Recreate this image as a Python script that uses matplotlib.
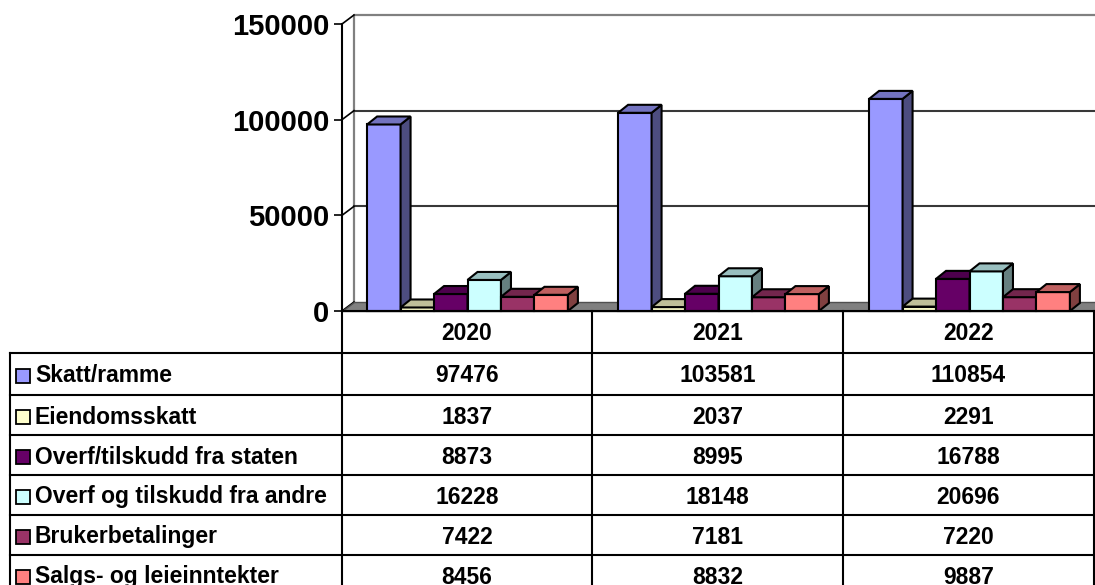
import matplotlib
matplotlib.use("Agg")
import matplotlib.pyplot as plt
from matplotlib.patches import Polygon, Rectangle
from matplotlib.colors import to_rgb

plt.rcParams["font.family"] = ["Liberation Sans", "DejaVu Sans"]
plt.rcParams["font.weight"] = "bold"

# data
years = ["2020", "2021", "2022"]
series = [
    "Skatt/ramme",
    "Eiendomsskatt",
    "Overf/tilskudd fra staten",
    "Overf og tilskudd fra andre",
    "Brukerbetalinger",
    "Salgs- og leieinntekter",
]
skatt = [97476, 103581, 110854]
eiendomsskatt = [1837, 2037, 2291]
overf_staten = [8873, 8995, 16788]
overf_andre = [16228, 18148, 20696]
brukerbetalinger = [7422, 7181, 7220]
salg_leie = [8456, 8832, 9887]
values = [skatt, eiendomsskatt, overf_staten, overf_andre, brukerbetalinger, salg_leie]
colors = ["#9999FF", "#FFFFCC", "#660066", "#CCFFFF", "#993366", "#FF8080"]
y_ticks = [0, 50000, 100000, 150000]
y_max = 150000

W, H = 1095, 585
fig = plt.figure(figsize=(W / 100, H / 100), dpi=100)

# plot area in pixels (from top-left)
px_left, px_right, px_bottom, px_top = 342, 1095, 311, 24
ax = fig.add_axes([px_left / W, 1 - px_bottom / H,
                   (px_right - px_left) / W, (px_bottom - px_top) / H])
n_groups = len(years)
ax.set_xlim(0, n_groups)
ax.set_ylim(0, y_max)
ax.set_facecolor("none")

# pixel -> data unit helpers
ux = n_groups / (px_right - px_left)
uy = y_max / (px_bottom - px_top)
wdx, wdy = 12 * ux, 9 * uy      # wall depth
bdx, bdy = 10 * ux, 8 * uy      # bar depth
xr = n_groups + 0.2

# back wall, floor and gridlines
ax.plot([wdx, wdx, xr], [wdy, y_max + wdy, y_max + wdy], color="#808080",
        lw=1.6, clip_on=False, zorder=1)
for t in y_ticks[1:-1]:
    ax.plot([wdx, xr], [t + wdy, t + wdy], color="#383838", lw=1.5,
            clip_on=False, zorder=1)
for t in y_ticks:
    ax.plot([0, wdx], [t, t + wdy], color="black", lw=1.2, clip_on=False, zorder=1)
ax.add_patch(Polygon([(0, 0), (xr, 0), (xr, wdy), (wdx, wdy)], closed=True,
                     facecolor="#808080", edgecolor="#505050", lw=1.0,
                     clip_on=False, zorder=1.5))


def shade(c, f):
    r, g, b = to_rgb(c)
    return (r * f, g * f, b * f)


# bars (3D look)
n_series = len(series)
w = 1 / (n_series + 1.5)
for j, (vals, col) in enumerate(zip(values, colors)):
    xs = [i + 0.75 * w + j * w for i in range(n_groups)]
    bars = ax.bar(xs, vals, width=w, align="edge", color=col,
                  edgecolor="black", lw=1.5, clip_on=False)
    for i, (bar, v) in enumerate(zip(bars, vals)):
        z = 3 + i * 0.1 + j * 0.01
        bar.set_zorder(z)
        x0 = xs[i]
        x1 = x0 + w
        ax.add_patch(Polygon([(x1, 0), (x1 + bdx, bdy), (x1 + bdx, v + bdy), (x1, v)],
                             closed=True, facecolor=shade(col, 0.5),
                             edgecolor="black", lw=1.5, clip_on=False, zorder=z))
        ax.add_patch(Polygon([(x0, v), (x1, v), (x1 + bdx, v + bdy), (x0 + bdx, v + bdy)],
                             closed=True, facecolor=shade(col, 0.75),
                             edgecolor="black", lw=1.5, clip_on=False, zorder=z))

for s in ["top", "right", "bottom"]:
    ax.spines[s].set_visible(False)
ax.spines["left"].set_linewidth(1.5)
ax.set_xticks([])
ax.set_yticks(y_ticks)
ax.set_yticklabels([str(t) for t in y_ticks], fontsize=21, fontweight="bold")
ax.tick_params(axis="y", length=6, width=1.2, pad=3)

# data table
tab = fig.add_axes([0, 0, 1, 1], zorder=5)
tab.set_xlim(0, W)
tab.set_ylim(H, 0)
tab.axis("off")

col_edges = [10, 342, 592, 843, 1093.5]
row_edges = [311, 353, 395, 435, 475, 515, 555, 595]
lw_t = 1.5
fs = 16.5
tab.plot([col_edges[1], col_edges[-1]], [row_edges[0]] * 2, color="black", lw=lw_t)
for y in row_edges[1:]:
    tab.plot([col_edges[0], col_edges[-1]], [y, y], color="black", lw=lw_t)
tab.plot([col_edges[0]] * 2, [row_edges[1], row_edges[-1]], color="black", lw=lw_t)
for x in col_edges[1:]:
    tab.plot([x, x], [row_edges[0], row_edges[-1]], color="black", lw=lw_t)

col_centers = [(a + b) / 2 for a, b in zip(col_edges[1:-1], col_edges[2:])]
for cx, yr in zip(col_centers, years):
    tab.text(cx, (row_edges[0] + row_edges[1]) / 2 + 1, yr, ha="center", va="center",
             fontsize=fs, fontweight="bold")

for k, (name, vals, col) in enumerate(zip(series, values, colors)):
    cy = (row_edges[k + 1] + row_edges[k + 2]) / 2 + 2
    tab.add_patch(Rectangle((15.5, cy - 7), 14, 14, facecolor=col,
                            edgecolor="black", lw=1.3))
    tab.text(35, cy, name, ha="left", va="center", fontsize=fs, fontweight="bold")
    for cx, v in zip(col_centers, vals):
        tab.text(cx, cy, str(v), ha="center", va="center", fontsize=fs,
                 fontweight="bold")

fig.savefig("out.png", dpi=100)
